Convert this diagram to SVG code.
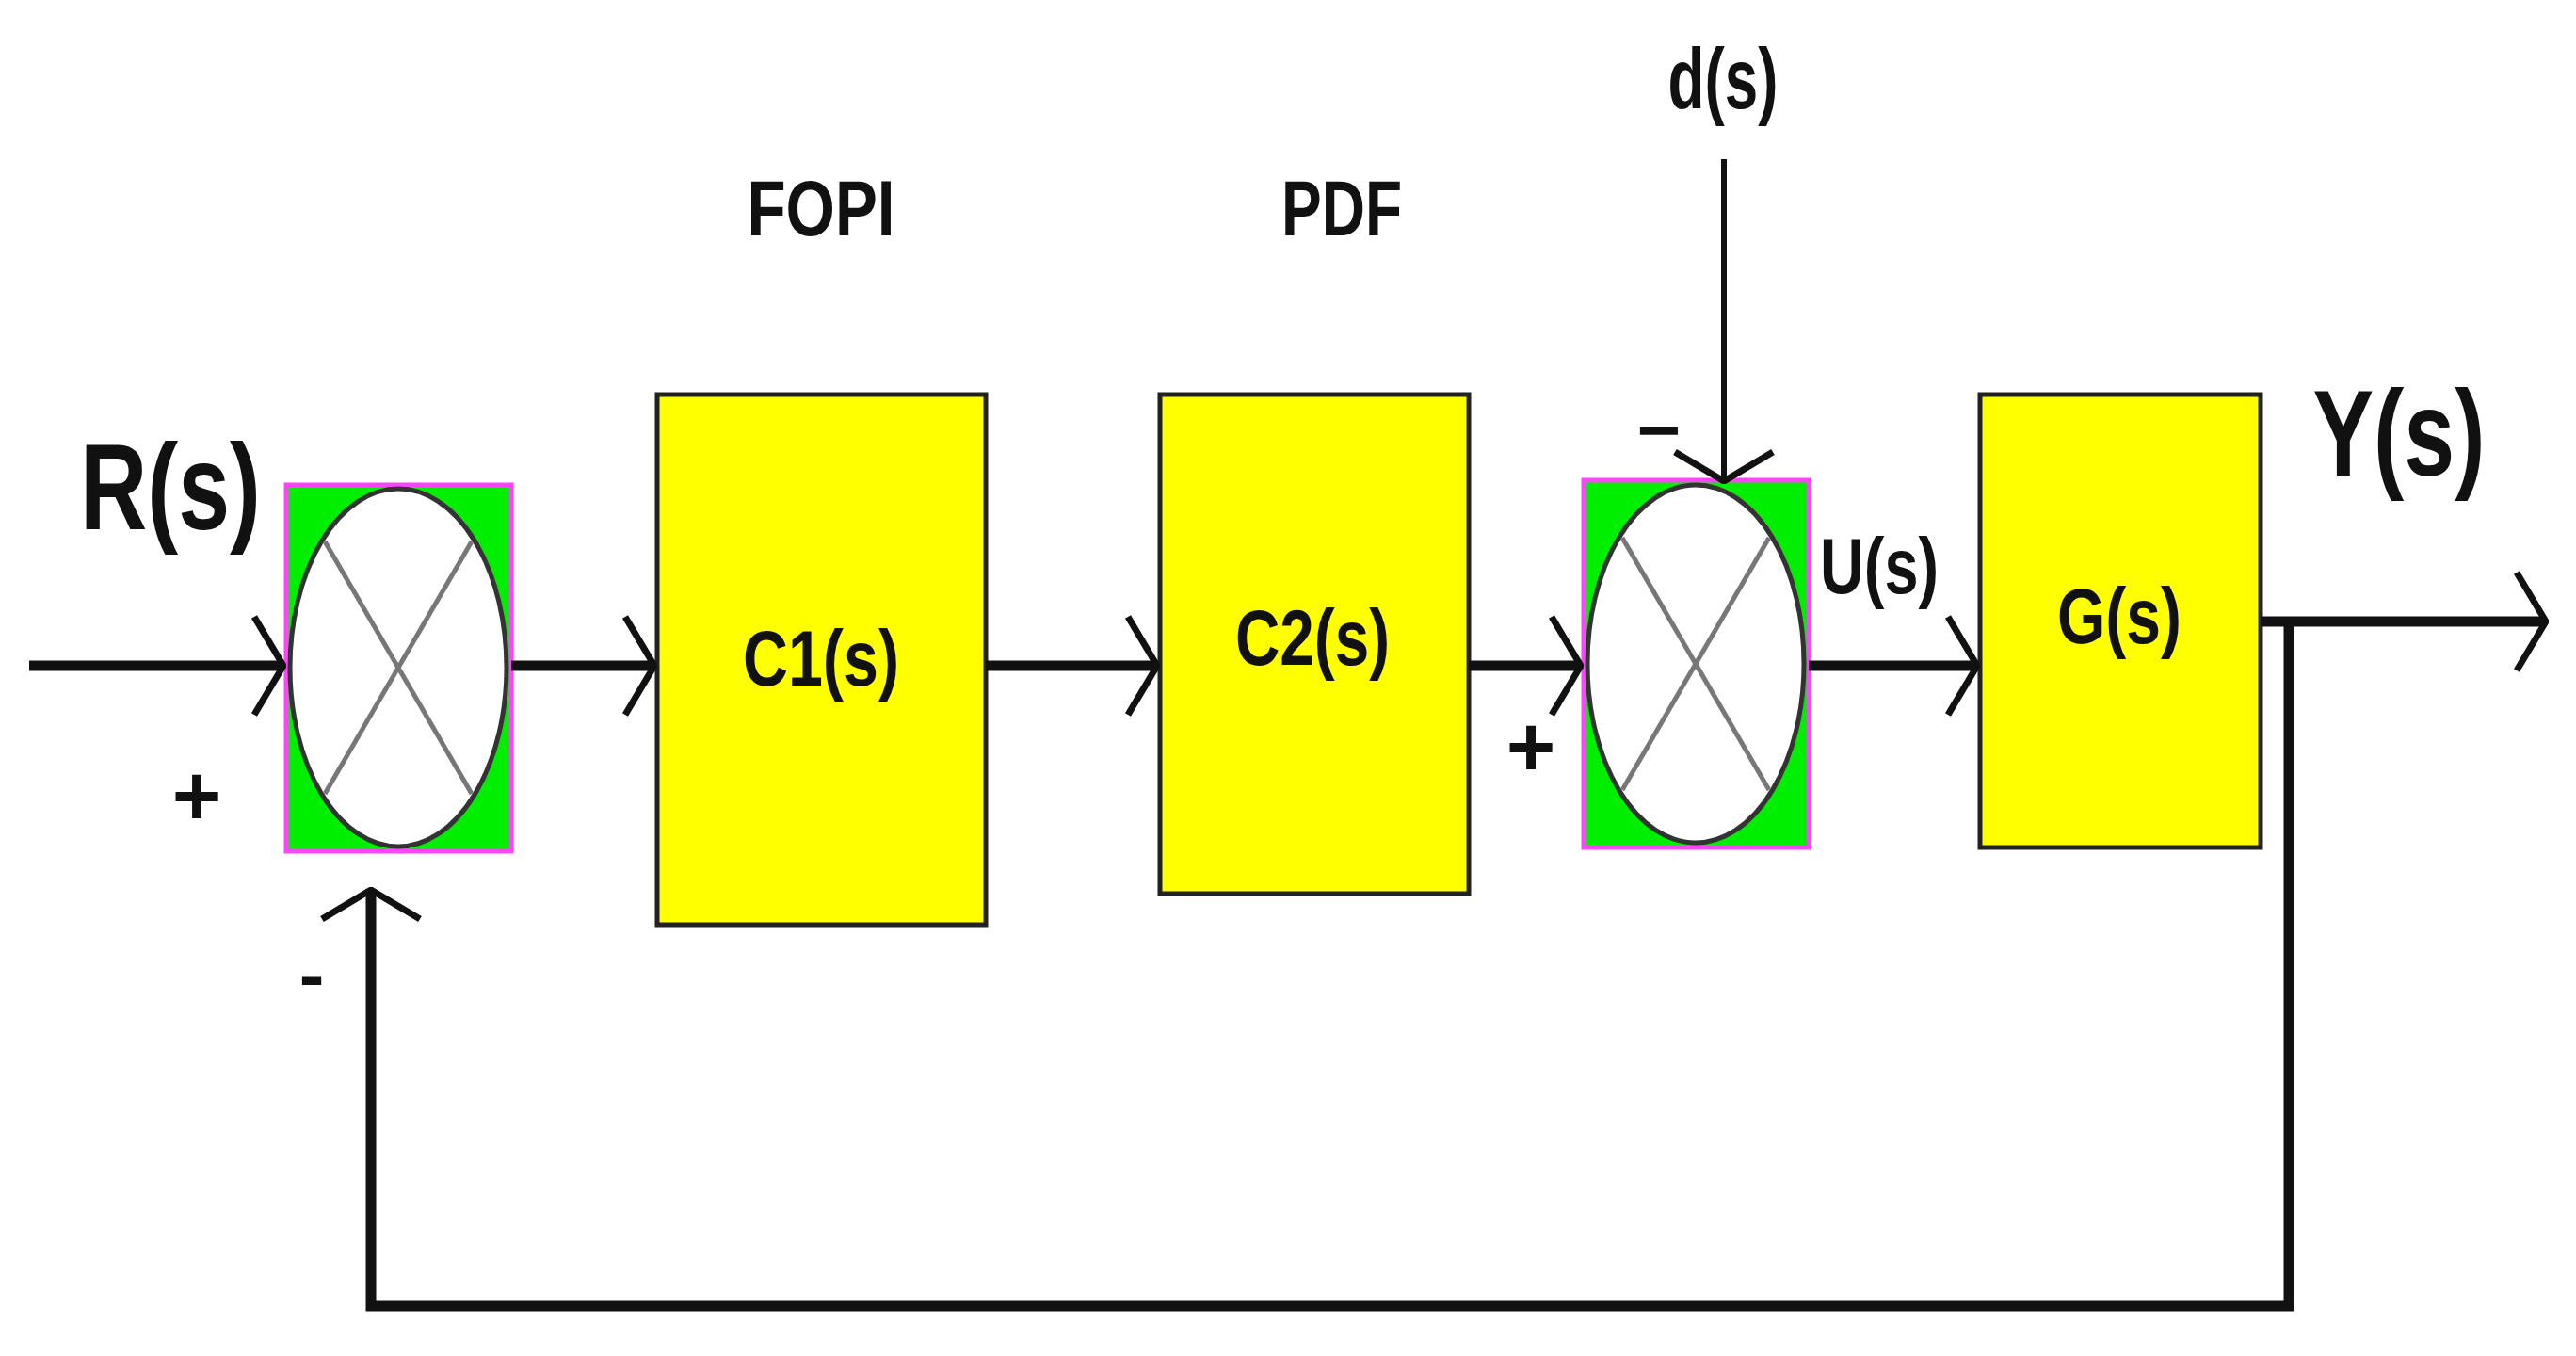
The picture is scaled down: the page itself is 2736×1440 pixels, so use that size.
<svg xmlns="http://www.w3.org/2000/svg" width="2736" height="1440" viewBox="0 0 2736 1440">
<defs>
<style>
.blk{fill:#ffff00;stroke:#222;stroke-width:5}
.sum{fill:#00ee00;stroke:#ff44ff;stroke-width:5}
.ell{fill:#fff;stroke:#333;stroke-width:5}
.x{stroke:#777;stroke-width:5}
.ln{fill:none;stroke:#111;stroke-width:11}
.thin{stroke-width:6}
.t{font-family:"Liberation Sans",Arial,sans-serif;font-weight:bold;fill:#111}
</style>
<marker id="ahb" viewBox="0 0 40 110" refX="38" refY="55" markerWidth="40" markerHeight="110" markerUnits="userSpaceOnUse" orient="auto">
<path d="M6,3 L37,55 L6,107" fill="none" stroke="#111" stroke-width="7"/>
</marker>
</defs>
<rect width="2736" height="1440" fill="#fff"/>
<g id="sum1">
<rect class="sum" x="304" y="515" width="239" height="389"/>
<ellipse class="ell" cx="423" cy="709" rx="115" ry="190"/>
<line class="x" x1="345" y1="575" x2="501" y2="843"/><line class="x" x1="501" y1="575" x2="345" y2="843"/>
</g>
<g id="C1"><rect class="blk" x="698" y="419" width="349" height="563"/>
<text class="t" x="872" y="728" font-size="84" text-anchor="middle" textLength="166" lengthAdjust="spacingAndGlyphs">C1(s)</text></g>
<g id="C2"><rect class="blk" x="1232" y="419" width="328" height="530"/>
<text class="t" x="1394" y="706" font-size="84" text-anchor="middle" textLength="164" lengthAdjust="spacingAndGlyphs">C2(s)</text></g>
<g id="sum2">
<rect class="sum" x="1682" y="510" width="239" height="390"/>
<ellipse class="ell" cx="1801" cy="705" rx="115" ry="190"/>
<line class="x" x1="1723" y1="571" x2="1879" y2="839"/><line class="x" x1="1879" y1="571" x2="1723" y2="839"/>
</g>
<g id="G"><rect class="blk" x="2103" y="419" width="298" height="481"/>
<text class="t" x="2251" y="683" font-size="84" text-anchor="middle" textLength="132" lengthAdjust="spacingAndGlyphs">G(s)</text></g>
<g id="connectors">
<line class="ln" x1="31" y1="707" x2="302" y2="707" marker-end="url(#ahb)"/>
<line class="ln" x1="543" y1="707" x2="696" y2="707" marker-end="url(#ahb)"/>
<line class="ln" x1="1047" y1="707" x2="1230" y2="707" marker-end="url(#ahb)"/>
<line class="ln" x1="1560" y1="707" x2="1680" y2="707" marker-end="url(#ahb)"/>
<line class="ln" x1="1921" y1="707" x2="2101" y2="707" marker-end="url(#ahb)"/>
<line class="ln" x1="2401" y1="660" x2="2705" y2="660" marker-end="url(#ahb)"/>
<line class="ln thin" x1="1831" y1="169" x2="1831" y2="512" marker-end="url(#ahb)"/>
<polyline class="ln" points="2431,660 2431,1387 394,1387 394,944" marker-end="url(#ahb)"/>
</g>
<g id="labels">
<text class="t" x="181" y="562" font-size="130" text-anchor="middle" textLength="192" lengthAdjust="spacingAndGlyphs">R(s)</text>
<text class="t" x="2548" y="505" font-size="130" text-anchor="middle" textLength="183" lengthAdjust="spacingAndGlyphs">Y(s)</text>
<text class="t" x="872" y="250" font-size="84" text-anchor="middle" textLength="157" lengthAdjust="spacingAndGlyphs">FOPI</text>
<text class="t" x="1425" y="250" font-size="84" text-anchor="middle" textLength="128" lengthAdjust="spacingAndGlyphs">PDF</text>
<text class="t" x="1830" y="115" font-size="90" text-anchor="middle" textLength="117" lengthAdjust="spacingAndGlyphs">d(s)</text>
<text class="t" x="1996" y="630" font-size="84" text-anchor="middle" textLength="126" lengthAdjust="spacingAndGlyphs">U(s)</text>
<text class="t" x="209" y="876" font-size="90" text-anchor="middle">+</text>
<text class="t" x="1626" y="824" font-size="90" text-anchor="middle">+</text>
<text class="t" x="331" y="1062" font-size="80" text-anchor="middle">-</text>
<text class="t" x="1762" y="484" font-size="80" text-anchor="middle">−</text>
</g>
</svg>
